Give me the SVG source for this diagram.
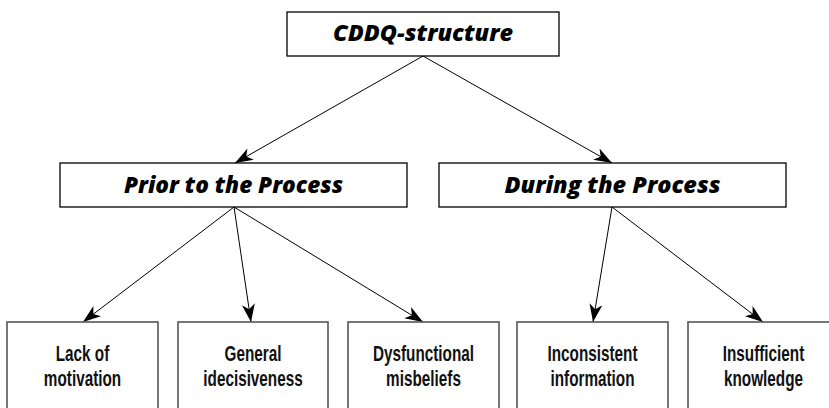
<svg xmlns="http://www.w3.org/2000/svg" width="829" height="408" viewBox="0 0 829 408">
<style>
.box{fill:#fff;stroke:#000;stroke-width:1.3}
.leaf{fill:#fff;stroke:#555;stroke-width:1.6}
.hdr{font-family:"Open Sans","Liberation Sans",sans-serif;font-weight:800;font-style:italic;font-size:23px;text-anchor:middle;fill:#000}
.lbl{font-family:"Liberation Sans",Arial,sans-serif;font-weight:bold;font-size:22.5px;text-anchor:middle;fill:#111}
.conn{stroke:#000;stroke-width:1;fill:none;marker-end:url(#ah)}
</style>
<defs>
<marker id="ah" markerUnits="userSpaceOnUse" markerWidth="20" markerHeight="14" refX="18" refY="6.5" orient="auto">
<path d="M0,0 L18,6.5 L0,13 L5,6.5 z" fill="#000"/>
</marker>
</defs>
<g id="connectors">
<line class="conn" x1="423" y1="56" x2="235" y2="163"/>
<line class="conn" x1="423" y1="56" x2="612" y2="163"/>
<line class="conn" x1="234" y1="207" x2="83" y2="322"/>
<line class="conn" x1="234" y1="207" x2="251" y2="322"/>
<line class="conn" x1="234" y1="207" x2="423" y2="322"/>
<line class="conn" x1="612" y1="207" x2="593" y2="322"/>
<line class="conn" x1="612" y1="207" x2="763" y2="322"/>
</g>
<g id="n-root">
<rect class="box" x="287" y="12" width="272" height="44"/>
<text class="hdr" x="423" y="41" textLength="180" lengthAdjust="spacingAndGlyphs">CDDQ-structure</text>
</g>
<g id="n-prior">
<rect class="box" x="60" y="163" width="347" height="44"/>
<text class="hdr" x="233.5" y="192.5" textLength="219" lengthAdjust="spacingAndGlyphs">Prior to the Process</text>
</g>
<g id="n-during">
<rect class="box" x="439" y="163" width="347" height="44"/>
<text class="hdr" x="612.5" y="192.5" textLength="216" lengthAdjust="spacingAndGlyphs">During the Process</text>
</g>
<g id="n-lack">
<rect class="leaf" x="7" y="322" width="151" height="100"/>
<text class="lbl" transform="matrix(0.68 0 0 1 82.5 0)" x="0" y="361">Lack of</text>
<text class="lbl" transform="matrix(0.68 0 0 1 82.5 0)" x="0" y="386">motivation</text>
</g>
<g id="n-general">
<rect class="leaf" x="178" y="322" width="150" height="100"/>
<text class="lbl" transform="matrix(0.68 0 0 1 253 0)" x="0" y="361">General</text>
<text class="lbl" transform="matrix(0.68 0 0 1 253 0)" x="0" y="386">idecisiveness</text>
</g>
<g id="n-dysf">
<rect class="leaf" x="348" y="322" width="151" height="100"/>
<text class="lbl" transform="matrix(0.68 0 0 1 423.5 0)" x="0" y="361">Dysfunctional</text>
<text class="lbl" transform="matrix(0.68 0 0 1 423.5 0)" x="0" y="386">misbeliefs</text>
</g>
<g id="n-incons">
<rect class="leaf" x="517" y="322" width="151" height="100"/>
<text class="lbl" transform="matrix(0.68 0 0 1 592.5 0)" x="0" y="361">Inconsistent</text>
<text class="lbl" transform="matrix(0.68 0 0 1 592.5 0)" x="0" y="386">information</text>
</g>
<g id="n-insuff">
<rect class="leaf" x="688" y="322" width="151" height="100"/>
<text class="lbl" transform="matrix(0.68 0 0 1 763.5 0)" x="0" y="361">Insufficient</text>
<text class="lbl" transform="matrix(0.68 0 0 1 763.5 0)" x="0" y="386">knowledge</text>
</g>
</svg>
